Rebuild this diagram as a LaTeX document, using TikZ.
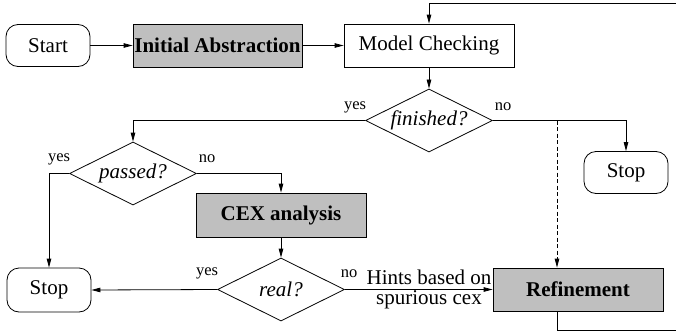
\documentclass[tikz,border=0pt]{standalone}
\usepackage{fontspec}
\setmainfont{Liberation Serif}
\usetikzlibrary{arrows.meta,shapes.geometric}
\definecolor{boxgray}{gray}{0.75}
\tikzset{
  >={Triangle[length=9pt,width=4.5pt]},
  term/.style={draw,rounded corners=12pt,minimum width=84pt,minimum height=42pt,inner sep=0pt},
  proc/.style={draw,minimum width=170pt,minimum height=43pt,inner sep=0pt},
  work/.style={proc,fill=boxgray,font=\bfseries},
  test/.style={draw,diamond,aspect=2,minimum width=127pt,minimum height=63pt,inner sep=1pt,font=\itshape},
  lbl/.style={font=\fontsize{16.5}{18}\selectfont,inner sep=0pt}
}

\begin{document}
\begin{tikzpicture}[x=1pt,y=-1pt,line width=0.8pt,
  execute at begin picture={\fontsize{21}{20}\selectfont}]
\useasboundingbox (0,0) rectangle (676,332);
% boxes
\node[term] (start) at (48,45.5) {Start};
\node[work,minimum width=169pt] (abstr) at (217.5,45.5) {Initial Abstraction};
\node[proc] (mc) at (429,45.5) {Model Checking};
\node[test] (fin) at (429,120.5) {finished?};
\node[term] (stopr) at (626,172.5) {Stop};
\node[test] (pass) at (133,173.5) {passed?};
\node[work,minimum height=44pt] (cex) at (281,215) {CEX analysis};
\node[test] (real) at (281,289.5) {real?};
\node[term,minimum height=44pt] (stopl) at (49,290) {Stop};
\node[work] (refine) at (578,289.5) {Refinement};
% flow
\draw[->] (start) -- (abstr);
\draw[->] (abstr) -- (mc);
\draw[->] (mc) -- (fin);
\draw[->] (fin.east) -| (stopr.north);
\draw[->] (fin.west) -| (pass.north);
\draw[->] (pass.west) -| (stopl.north);
\draw[->] (pass.east) -| (cex.north);
\draw[->] (cex) -- (real);
\draw[->] (real.west) -- (stopl.east);
\draw[->] (real.east) -- (refine.west);
\coordinate (fork) at (557,120.5);
\draw[->,dash pattern=on 4pt off 2.5pt] (fork) -- (fork |- refine.north);
% back to model checking
\coordinate (loopbr) at (690,330.5);
\coordinate (looptr) at (690,3.5);
\draw[->] (fork |- refine.south) |- (loopbr) -- (looptr) -| (mc.north);
% branch labels
\node[lbl] (finyes) at (355,107) {yes};
\node[lbl] (finno) at (503,107) {no};
\node[lbl] (passyes) at (59,159) {yes};
\node[lbl] (passno) at (207,159) {no};
\node[lbl] (realyes) at (207,273) {yes};
\node[lbl] (realno) at (349,274) {no};
\node[align=center,inner sep=0pt] (hint) at (429,289) {Hints based on\\spurious cex};
\end{tikzpicture}
\end{document}
